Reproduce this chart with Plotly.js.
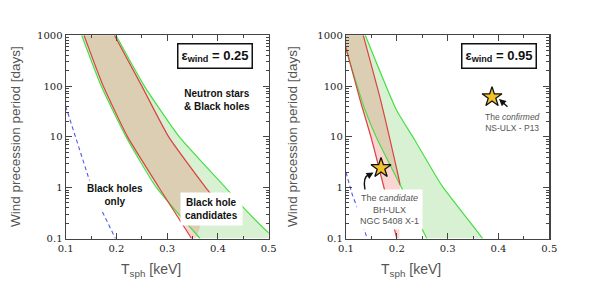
<!DOCTYPE html>
<html><head><meta charset="utf-8">
<script src="https://cdn.plot.ly/plotly-3.0.1.min.js"></script>
<style>html,body{margin:0;padding:0;background:#fff}#c{width:589px;height:293px}</style>
</head><body><div id="c"></div>
<script>
// ---------- Panel A : eps_wind = 0.25 ----------
const aGrnLoT = [0.1315, 0.170, 0.219, 0.279, 0.3647];
const aGrnLoP = [1000, 100, 10, 1, 0.1];
const aGrnHiT = [0.199, 0.255, 0.324, 0.415, 0.460, 0.5, 0.52];
const aGrnHiP = [1000, 100, 10, 1, 0.32, 0.13, 0.1];
const aRedLoT = [0.136, 0.174, 0.222, 0.284, 0.348];
const aRedLoP = [1000, 100, 10, 1, 0.1];
const aRedHiT = [0.196, 0.250, 0.303, 0.376, 0.3877];
const aRedHiP = [1000, 100, 10, 1, 0.705];
const aRedEndT = [0.372, 0.357];      // closing edge of the red band, hidden under the label
const aRedEndP = [0.3, 0.1];
const aBlueT = [0.1, 0.1283, 0.151, 0.171, 0.198];
const aBlueP = [40, 5.4, 1.03, 0.356, 0.1];

// ---------- Panel B : eps_wind = 0.95 ----------
const bGrnLoT = [0.088, 0.1, 0.1374, 0.162, 0.2063, 0.259];
const bGrnLoP = [1230, 516, 34.2, 8.8, 1.15, 0.1];
const bGrnHiT = [0.138, 0.199, 0.235, 0.277, 0.2915, 0.369];
const bGrnHiP = [1000, 34.2, 8.8, 1.68, 1.0, 0.1];
const bRedLoT = [0.09, 0.1, 0.1276, 0.1506, 0.2];
const bRedLoP = [1340, 570, 53.8, 8.8, 0.1];
const bRedHiT = [0.134, 0.168, 0.1866, 0.203, 0.2063];
const bRedHiP = [1000, 53.8, 8.8, 1.68, 1.15];
const bRedEndT = [0.205];
const bRedEndP = [0.1];
const bBlueT = [0.1, 0.112, 0.128, 0.1415];
const bBlueP = [2.0, 0.75, 0.28, 0.1];

// observed sources (panel B)
const srcNames = ['NGC 5408 X-1', 'NS-ULX P13'];
const srcT = [0.1689, 0.3873];
const srcP = [2.45, 60.8];

const xTickVals = [0.1, 0.2, 0.3, 0.4, 0.5];
const xTickText = ['0.1', '0.2', '0.3', '0.4', '0.5'];
const yTickVals = [0.1, 1, 10, 100, 1000];
const yTickText = ['0.1', '1', '10', '100', '1000'];

const GREEN = '#45e045', RED = '#d94343', BLUE = '#4d5ce8';
const GFILL = 'rgb(216,241,210)', RFILL = 'rgb(250,213,209)', BFILL = 'rgb(220,206,179)';

// T on a boundary curve at a given log10(P) (linear in log P, clamped at the ends)
function tAt(T, P, lp) {
  const L = P.map(Math.log10);
  if (lp >= L[0]) return T[0];
  for (let i = 1; i < L.length; i++) {
    if (lp >= L[i]) return T[i - 1] + (T[i] - T[i - 1]) * (L[i - 1] - lp) / (L[i - 1] - L[i]);
  }
  return T[T.length - 1];
}
// region shared by the two bands
function overlap(loA, loAP, hiA, hiAP, loB, loBP, hiB, hiBP, lpTop, xa, ya) {
  const left = [], right = [], lps = [];
  for (let k = 0; k <= 240; k++) {
    const lp = lpTop - k * (lpTop + 1) / 240;
    const l = Math.max(tAt(loA, loAP, lp), tAt(loB, loBP, lp));
    const r = Math.min(tAt(hiA, hiAP, lp), tAt(hiB, hiBP, lp));
    if (l < r) { left.push(l); right.push(r); lps.push(Math.pow(10, lp)); }
  }
  return {x: left.concat(right.slice().reverse()), y: lps.concat(lps.slice().reverse()),
          xaxis: xa, yaxis: ya, mode: 'lines', fill: 'toself', fillcolor: BFILL,
          line: {width: 0}, hoverinfo: 'skip'};
}
function band(loT, loP, hiT, hiP, color, xa, ya) {
  return {x: loT.concat(hiT.slice().reverse()), y: loP.concat(hiP.slice().reverse()),
          xaxis: xa, yaxis: ya, mode: 'lines', fill: 'toself',
          fillcolor: color, line: {width: 0}, hoverinfo: 'skip'};
}
function line(t, p, color, xa, ya, dash) {
  return {x: t, y: p, xaxis: xa, yaxis: ya, mode: 'lines',
          line: {color: color, width: dash ? 1.1 : 1.2, dash: dash || 'solid',
                 shape: dash ? 'linear' : 'spline', smoothing: 0.5}};
}

const aRedHiFullT = aRedHiT.concat(aRedEndT), aRedHiFullP = aRedHiP.concat(aRedEndP);
const bRedHiFullT = bRedHiT.concat(bRedEndT), bRedHiFullP = bRedHiP.concat(bRedEndP);

const traces = [
  band(aGrnLoT, aGrnLoP, aGrnHiT, aGrnHiP, GFILL, 'x', 'y'),
  band(bGrnLoT, bGrnLoP, bGrnHiT, bGrnHiP, GFILL, 'x2', 'y2'),
  band(aRedLoT, aRedLoP, aRedHiFullT, aRedHiFullP, RFILL, 'x', 'y'),
  band(bRedLoT, bRedLoP, bRedHiFullT, bRedHiFullP, RFILL, 'x2', 'y2'),
  overlap(aRedLoT, aRedLoP, aRedHiFullT, aRedHiFullP, aGrnLoT, aGrnLoP, aGrnHiT, aGrnHiP, 3, 'x', 'y'),
  overlap(bRedLoT, bRedLoP, bRedHiFullT, bRedHiFullP, bGrnLoT, bGrnLoP, bGrnHiT, bGrnHiP, 3.1, 'x2', 'y2'),
  line(aGrnLoT, aGrnLoP, GREEN, 'x', 'y'), line(aGrnHiT, aGrnHiP, GREEN, 'x', 'y'),
  line(aRedLoT, aRedLoP, RED, 'x', 'y'), line(aRedHiT, aRedHiP, RED, 'x', 'y'),
  line(bGrnLoT, bGrnLoP, GREEN, 'x2', 'y2'), line(bGrnHiT, bGrnHiP, GREEN, 'x2', 'y2'),
  line(bRedLoT, bRedLoP, RED, 'x2', 'y2'), line(bRedHiT, bRedHiP, RED, 'x2', 'y2'),
  line(aBlueT, aBlueP, BLUE, 'x', 'y', '4px,3px'),
  line(bBlueT, bBlueP, BLUE, 'x2', 'y2', '4px,3px'),
  {x: srcT, y: srcP, text: srcNames, xaxis: 'x2', yaxis: 'y2', mode: 'markers',
   marker: {symbol: 'star', size: 15, color: '#f3c228', line: {color: '#111', width: 1.3}}}
];

function xax(domain, anchor) {
  return {domain: domain, anchor: anchor, range: [0.1, 0.5], tickmode: 'array',
    tickvals: xTickVals, ticktext: xTickText, ticks: 'inside', ticklen: 6, tickwidth: 1,
    tickcolor: '#444', showline: true, linecolor: '#444', linewidth: 1.2, mirror: 'allticks',
    showgrid: false, zeroline: false,
    minor: {ticks: 'inside', ticklen: 3, tickmode: 'linear', tick0: 0.1, dtick: 0.05, tickcolor: '#444', showgrid: false},
    tickfont: {family: 'DejaVu Serif', size: 10, color: '#222'}};
}
function yax(anchor) {
  return {domain: [0.186, 0.8795], anchor: anchor, type: 'log', range: [-1, 3], tickmode: 'array',
    tickvals: yTickVals, ticktext: yTickText, ticks: 'inside', ticklen: 6, tickwidth: 1,
    tickcolor: '#444', showline: true, linecolor: '#444', linewidth: 1.2, mirror: 'allticks',
    showgrid: false, zeroline: false,
    minor: {ticks: 'inside', ticklen: 3, dtick: 'D1', tickcolor: '#444', showgrid: false},
    tickfont: {family: 'DejaVu Serif', size: 10, color: '#222'}};
}

const W = 589, H = 293;
const px = v => v / W, py = v => 1 - v / H;
const bold = {family: 'Liberation Sans, Arial', size: 10, color: '#111'};
const note = {family: 'Liberation Sans, Arial', size: 9, color: '#555'};
const ann = [
  {text: '<b>ε<sub>wind</sub> = 0.25</b>', x: px(215), y: py(56.5), font: {family: 'Liberation Sans, Arial', size: 13, color: '#111'},
   bgcolor: '#fff', bordercolor: '#111', borderwidth: 1.5, borderpad: 3},
  {text: '<b>ε<sub>wind</sub> = 0.95</b>', x: px(498.5), y: py(56.5), font: {family: 'Liberation Sans, Arial', size: 13, color: '#111'},
   bgcolor: '#fff', bordercolor: '#111', borderwidth: 1.5, borderpad: 3},
  {text: '<b>Neutron stars<br>&amp; Black holes</b>', x: px(216.7), y: py(100), font: bold},
  {text: '<b>Black holes<br>only</b>', x: px(115), y: py(195), font: bold, bgcolor: '#fff', borderpad: 2},
  {text: '<b>Black hole<br>candidates</b>', x: px(211), y: py(209), font: bold, bgcolor: '#fff', borderpad: 4},
  {text: 'The <i>confirmed</i><br>NS-ULX - P13', x: px(512.7), y: py(122), font: {family: 'Liberation Sans, Arial', size: 8.5, color: '#555'}},
  {text: 'The <i>candidate</i><br>BH-ULX<br>NGC 5408 X-1', x: px(389), y: py(209.5), font: note, bgcolor: '#fff', borderpad: 3},
  {text: 'Wind precession period [days]', x: px(15), y: py(137), textangle: -90, font: {family: 'Liberation Sans, Arial', size: 13.5, color: '#555'}},
  {text: 'Wind precession period [days]', x: px(292), y: py(137), textangle: -90, font: {family: 'Liberation Sans, Arial', size: 13.5, color: '#555'}},
  {text: 'T<sub>sph</sub> [keV]', x: px(151), y: py(270), font: {family: 'Liberation Sans, Arial', size: 14, color: '#555'}},
  {text: 'T<sub>sph</sub> [keV]', x: px(411), y: py(270), font: {family: 'Liberation Sans, Arial', size: 14, color: '#555'}},
  {text: '', x: px(499), y: py(99), showarrow: true, ax: 10, ay: 9, arrowhead: 2, arrowsize: 1, arrowwidth: 1.4, arrowcolor: '#111'},
  {text: '', x: px(373.5), y: py(172.5), showarrow: true, ax: -5, ay: 3, arrowhead: 2, arrowsize: 1, arrowwidth: 1.4, arrowcolor: '#111'}
].map(a => Object.assign({xref: 'paper', yref: 'paper', showarrow: false, xanchor: 'center', yanchor: 'middle'}, a));

// curved stem of the arrow pointing at the candidate source
const shapes = [{type: 'path', xref: 'paper', yref: 'paper',
  path: 'M ' + px(365) + ' ' + py(190) + ' Q ' + px(362.5) + ' ' + py(177) + ' ' + px(369) + ' ' + py(174.5),
  line: {color: '#111', width: 1.4}}];

const layout = {
  width: W, height: H, margin: {l: 0, r: 0, t: 0, b: 0}, showlegend: false,
  paper_bgcolor: '#fff', plot_bgcolor: '#fff',
  xaxis: xax([px(65.7), px(268.7)], 'y'), yaxis: yax('x'),
  xaxis2: xax([px(346), px(549.3)], 'y2'), yaxis2: yax('x2'),
  annotations: ann, shapes: shapes
};
Plotly.newPlot('c', traces, layout, {staticPlot: true});
</script></body></html>
